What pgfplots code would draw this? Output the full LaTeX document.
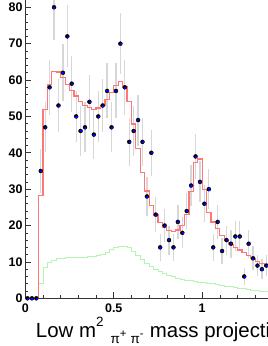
\documentclass[border=0pt]{standalone}
\usepackage{fontspec}
\setmainfont{Liberation Sans}
\usepackage{pgfplots}
\pgfplotsset{compat=1.18}
\usepackage{pgfplotstable}

\definecolor{fitred}{RGB}{255,120,120}
\definecolor{bkggreen}{RGB}{180,245,180}
\definecolor{errgray}{RGB}{215,215,215}

\pgfplotstableread{
x y e
0.0125 0 0
0.0375 0 0
0.0625 0 0
0.0875 35 5.92
0.1125 47 6.86
0.1375 58 7.62
0.1625 80 8.94
0.1875 53 7.28
0.2125 62 7.87
0.2375 72 8.49
0.2625 59 7.68
0.2875 50 7.07
0.3125 46 6.78
0.3375 47 6.86
0.3625 54 7.35
0.3875 45 6.71
0.4125 50 7.07
0.4375 53 7.28
0.4625 57 7.55
0.4875 47 6.86
0.5125 57 7.55
0.5375 70 8.37
0.5625 58 7.62
0.5875 43 6.56
0.6125 46 6.78
0.6375 49 7.00
0.6625 43 6.56
0.6875 28 5.29
0.7125 40 6.32
0.7375 23 4.80
0.7625 14 3.74
0.7875 20 4.47
0.8125 16 4.00
0.8375 14 3.74
0.8625 21 4.58
0.8875 18 4.24
0.9125 24 4.90
0.9375 31 5.57
0.9625 39 6.24
0.9875 32 5.66
1.0125 26 5.10
1.0375 30 5.48
1.0625 14 3.74
1.0875 21 4.58
1.1125 13 3.61
1.1375 16 4.00
1.1625 15 3.87
1.1875 17 4.12
1.2125 17 4.12
1.2375 6 2.45
1.2625 15 3.87
1.2875 11 3.32
1.3125 9 3.00
1.3375 8 2.83
1.3625 9 3.00
}\datatable

\pgfplotstableread{
x y
0.000 0
0.075 28.3
0.100 51.9
0.125 58.8
0.150 62.4
0.175 62.2
0.200 60.8
0.225 58.8
0.250 57.2
0.275 55.6
0.300 54.2
0.325 53.1
0.350 52.4
0.375 52.0
0.400 52.3
0.425 53.1
0.450 54.7
0.475 56.6
0.500 58.5
0.525 59.7
0.550 58.1
0.575 54.2
0.600 47.9
0.625 41.2
0.650 34.6
0.675 29.5
0.700 25.6
0.725 22.9
0.750 20.9
0.775 19.5
0.800 18.6
0.825 18.4
0.850 18.8
0.875 20.0
0.900 23.0
0.925 29.3
0.950 37.3
0.975 38.3
1.000 29.9
1.025 23.5
1.050 21.0
1.075 19.2
1.100 17.2
1.125 15.8
1.150 14.8
1.175 14.0
1.200 13.3
1.225 12.6
1.250 11.8
1.275 11.0
1.300 10.2
1.325 9.5
1.350 8.8
1.375 8.5
1.400 8.5
}\fittable

\pgfplotstableread{
x y
0.000 0
0.075 4.1
0.100 8.4
0.125 9.9
0.150 10.5
0.175 10.9
0.200 11.1
0.225 11.3
0.250 11.35
0.275 11.35
0.300 11.35
0.325 11.35
0.350 11.4
0.375 11.5
0.400 11.8
0.425 12.2
0.450 12.7
0.475 13.4
0.500 14.0
0.525 14.4
0.550 14.4
0.575 14.0
0.600 13.0
0.625 11.9
0.650 10.7
0.675 9.6
0.700 8.7
0.725 8.0
0.750 7.3
0.775 6.8
0.800 6.4
0.825 5.9
0.850 5.6
0.875 5.3
0.900 5.0
0.925 4.8
0.950 4.7
0.975 4.5
1.000 4.3
1.025 4.1
1.050 4.0
1.075 3.7
1.100 3.6
1.125 3.4
1.150 3.2
1.175 3.1
1.200 2.8
1.225 2.7
1.250 2.5
1.275 2.3
1.300 2.1
1.325 2.0
1.350 1.95
1.375 1.9
1.400 1.9
}\bkgtable

\begin{document}
\begin{tikzpicture}
\begin{axis}[
  at={(0,0)}, anchor=south west,
  scale only axis, width=242.7bp, height=298.3bp,
  xmin=0, xmax=1.372, ymin=0, ymax=82,
  axis x line*=bottom, axis y line*=left,
  axis line style={black!80, line width=0.7bp},
  tick align=inside,
  xtick={0,0.5,1}, xticklabels={0,0.5,1},
  minor xtick={0.1,0.2,0.3,0.4,0.6,0.7,0.8,0.9,1.1,1.2,1.3},
  ytick={0,10,20,30,40,50,60,70,80},
  yticklabels={0,10,20,30,40,50,60,70,80},
  minor ytick={2,4,6,8,12,14,16,18,22,24,26,28,32,34,36,38,42,44,46,48,52,54,56,58,62,64,66,68,72,74,76,78},
  major tick length=6bp, minor tick length=3bp,
  tick style={black!80, line width=0.6bp},
  ticklabel style={font=\fontsize{12.5}{12.5}\selectfont\bfseries},
  yticklabel style={inner sep=1.5bp, xshift=-1bp},
  xticklabel style={inner sep=1bp, yshift=-4bp},
  xlabel={Low m\raisebox{0.55em}{\fontsize{13.5}{13.5}\selectfont 2}\hspace{0.35em}\raisebox{-0.3em}{\fontsize{13.5}{13.5}\selectfont π\raisebox{0.45em}{\fontsize{11.5}{11.5}\selectfont +}\hspace{0.3em}π\raisebox{0.45em}{\fontsize{11.5}{11.5}\selectfont -}}\hspace{0.3em}mass projection},
  xlabel style={at={(axis description cs:0.0429,-0.132)}, anchor=base west, font=\fontsize{20.5}{20.5}\selectfont, inner sep=0pt},
  clip=true,
]
\addplot[only marks, mark=none, error bars/.cd, y dir=both, y explicit,
  error bar style={color=errgray, line width=1.3bp}, error mark=none]
  table[x=x, y=y, y error=e]{\datatable};
\addplot[const plot, color=bkggreen, line width=0.8bp] table[x=x,y=y]{\bkgtable};
\addplot[const plot, color=fitred, line width=1.2bp] table[x=x,y=y]{\fittable};
\addplot[only marks, mark=square*, mark size=0.55bp, color=blue, mark options={line width=0.3bp}] table[x=x,y=y]{\datatable};
\end{axis}
\pgfresetboundingbox
\useasboundingbox (-25.3bp,-47.7bp) rectangle (242.7bp,298.3bp);
\end{tikzpicture}
\end{document}
